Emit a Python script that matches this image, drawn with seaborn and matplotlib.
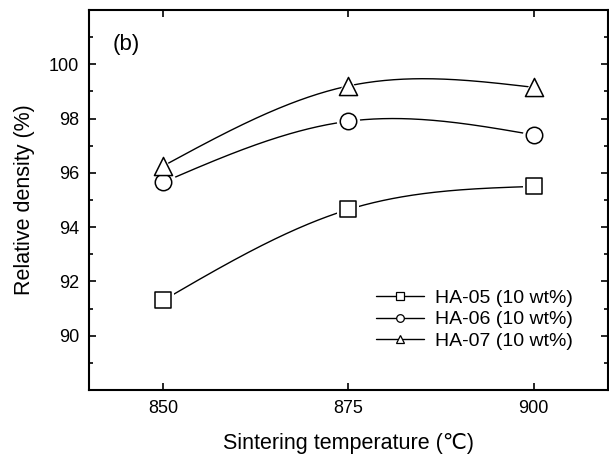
import numpy as np
import pandas as pd
import matplotlib
matplotlib.use("Agg")
import matplotlib.pyplot as plt
from matplotlib.lines import Line2D
from matplotlib.ticker import MultipleLocator, FixedLocator
import seaborn as sns

# ---- data ----
temperature = [850, 875, 900]
ha05 = [91.3, 94.65, 95.5]
ha06 = [95.65, 97.9, 97.4]
ha07 = [96.25, 99.2, 99.15]
series_names = ["HA-05 (10 wt%)", "HA-06 (10 wt%)", "HA-07 (10 wt%)"]
series_markers = ["s", "o", "^"]
x_ticks = [850, 875, 900]
y_ticks = [90, 92, 94, 96, 98, 100]

sns.set_theme(style="ticks")
plt.rcParams["font.family"] = ["Liberation Sans", "DejaVu Sans"]
plt.rcParams["text.color"] = "black"
plt.rcParams["axes.labelcolor"] = "black"
plt.rcParams["xtick.color"] = "black"
plt.rcParams["ytick.color"] = "black"


def natural_spline(x, y, n=200):
    """Smooth connecting curve (natural cubic spline) through the data points."""
    x = np.asarray(x, float)
    y = np.asarray(y, float)
    k = len(x)
    h = np.diff(x)
    A = np.zeros((k, k))
    r = np.zeros(k)
    A[0, 0] = A[-1, -1] = 1.0
    for i in range(1, k - 1):
        A[i, i - 1] = h[i - 1]
        A[i, i] = 2 * (h[i - 1] + h[i])
        A[i, i + 1] = h[i]
        r[i] = 6 * ((y[i + 1] - y[i]) / h[i] - (y[i] - y[i - 1]) / h[i - 1])
    M = np.linalg.solve(A, r)
    xs = np.linspace(x[0], x[-1], n)
    ys = np.empty_like(xs)
    for j, xv in enumerate(xs):
        i = min(np.searchsorted(x, xv, side="right") - 1, k - 2)
        hi = h[i]
        a = x[i + 1] - xv
        b = xv - x[i]
        ys[j] = (M[i] * a ** 3 / (6 * hi) + M[i + 1] * b ** 3 / (6 * hi)
                 + (y[i] / hi - M[i] * hi / 6) * a + (y[i + 1] / hi - M[i + 1] * hi / 6) * b)
    return xs, ys


fig = plt.figure(figsize=(6.09, 4.54), dpi=100)
ax = fig.add_axes([0.146, 0.141, 0.852, 0.837])

points = pd.DataFrame({
    "temperature": temperature * 3,
    "density": ha05 + ha06 + ha07,
    "series": [series_names[0]] * 3 + [series_names[1]] * 3 + [series_names[2]] * 3,
})

curves = []
for name, vals in zip(series_names, [ha05, ha06, ha07]):
    xs, ys = natural_spline(temperature, vals)
    curves.append(pd.DataFrame({"temperature": xs, "density": ys, "series": name}))
curves = pd.concat(curves, ignore_index=True)

sns.lineplot(data=curves, x="temperature", y="density", hue="series",
             palette=["black"] * 3, linewidth=1.0, legend=False, ax=ax, sort=False)

msize = {"s": 130, "o": 140, "^": 170}
for name, mk in zip(series_names, series_markers):
    sub = points[points["series"] == name]
    # white halo to create the gap between line and marker
    sns.scatterplot(data=sub, x="temperature", y="density", marker=mk,
                    s=msize[mk] * 2.0, color="white", edgecolor="white",
                    linewidth=0, ax=ax, legend=False, zorder=3)
    sns.scatterplot(data=sub, x="temperature", y="density", marker=mk,
                    s=msize[mk], facecolor="white", edgecolor="black",
                    linewidth=1.1, ax=ax, legend=False, zorder=4)

ax.set_xlim(840, 910)
ax.set_ylim(88, 102)
ax.xaxis.set_major_locator(FixedLocator(x_ticks))
ax.yaxis.set_major_locator(FixedLocator(y_ticks))
ax.yaxis.set_minor_locator(MultipleLocator(1))
ax.tick_params(which="both", direction="in", top=True, right=True, color="black",
               labelcolor="black", labelsize=13, width=1.2)
ax.tick_params(which="major", length=5, pad=7)
ax.tick_params(which="minor", length=3)
for sp in ax.spines.values():
    sp.set_linewidth(1.5)
    sp.set_color("black")

ax.set_xlabel("Sintering temperature (\u2103)", fontsize=15.5, labelpad=12, color="black")
ax.set_ylabel("Relative density (%)", fontsize=15.5, labelpad=10, color="black")
ax.text(0.045, 0.895, "(b)", transform=ax.transAxes, fontsize=16, color="black")

handles = [Line2D([0], [0], color="black", linewidth=1.0, marker=mk,
                  markersize=5.5, markerfacecolor="white", markeredgecolor="black",
                  markeredgewidth=0.9)
           for mk in series_markers]
leg = ax.legend(handles, series_names, loc="lower right", bbox_to_anchor=(0.948, 0.085),
                frameon=False, fontsize=14, handlelength=2.5, handletextpad=0.55,
                labelspacing=0.2, borderaxespad=0)
for t in leg.get_texts():
    t.set_color("black")

fig.savefig("out.png", dpi=100, facecolor="white")
